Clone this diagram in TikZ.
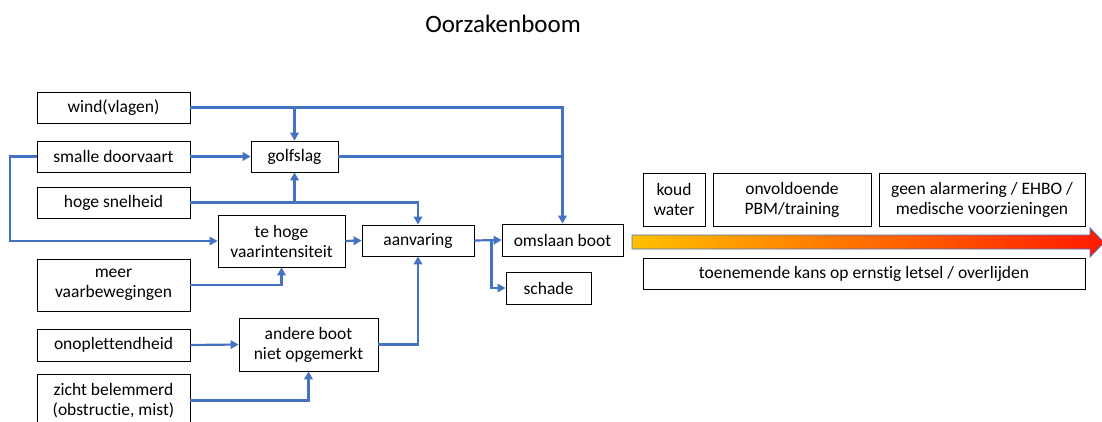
\documentclass[tikz,border=0pt]{standalone}
\usepackage{fontspec}
\setmainfont[Ligatures=NoCommon]{Carlito}
\usetikzlibrary{arrows.meta}
\definecolor{linkblue}{HTML}{4472C4}
\definecolor{riskyellow}{HTML}{FFC000}
\definecolor{riskred}{HTML}{FF1A00}
\begin{document}
\begin{tikzpicture}[x=1pt, y=-1pt,
    box/.style={draw, line width=0.8pt, align=center, inner sep=0pt,
        font=\fontsize{17.5}{20}\selectfont},
    conn/.style={draw=linkblue, line width=2.2pt},
    arr/.style={conn, -{Triangle[length=8pt,width=8.5pt]}}]
        \clip (0,0) rectangle (1102,421);

        % Add title
        \node[font=\fontsize{25}{30}\selectfont, anchor=base] (title) at (503,32) {Oorzakenboom};

        % Draw causes on the left
        \node[box, minimum width=153, minimum height=31] (wind) at (113.5,107.5) {wind(vlagen)};
        \node[box, minimum width=153, minimum height=31] (doorvaart) at (113.5,156.5) {smalle doorvaart};
        \node[box, minimum width=153, minimum height=31] (snelheid) at (113.5,202.5) {hoge snelheid};
        \node[box, minimum width=153, minimum height=52] (meer) at (113.5,285) {meer\\vaarbewegingen};
        \node[box, minimum width=153, minimum height=32] (onoplet) at (113.5,345) {onoplettendheid};
        \node[box, minimum width=153, minimum height=53] (zicht) at (113.5,400.5) {zicht belemmerd\\(obstructie, mist)};

        % Draw intermediate causes
        \node[box, minimum width=87, minimum height=31] (golfslag) at (294.5,156.5) {golfslag};
        \node[box, minimum width=127, minimum height=52] (intensiteit) at (281.5,241) {te hoge\\vaarintensiteit};
        \node[box, minimum width=139, minimum height=53] (andere) at (308.5,344.5) {andere boot\\niet opgemerkt};
        \node[box, minimum width=112, minimum height=31] (aanvaring) at (418,240.5) {aanvaring};

        % Draw effects
        \node[box, minimum width=121, minimum height=32] (omslaan) at (562.5,240) {omslaan boot};
        \node[box, minimum width=85, minimum height=32] (schade) at (548.5,288) {schade};

        % Draw risk arrow
        \shade[left color=riskyellow, right color=riskred, draw=linkblue, line width=0.8pt]
            (632,235) -- (1090,235) -- (1090,228) -- (1104,242.5) -- (1090,257)
            -- (1090,249) -- (632,249) -- cycle;

        % Add risk factors
        \node[box, minimum width=62, minimum height=53] (koud) at (674,199.5) {koud\\water};
        \node[box, minimum width=158, minimum height=53] (pbm) at (792,199.5) {onvoldoende\\PBM/training};
        \node[box, minimum width=206, minimum height=53] (ehbo) at (982,199.5) {geen alarmering / EHBO /\\medische voorzieningen};
        \node[box, minimum width=442, minimum height=31] (letsel) at (864,273.5) {toenemende kans op ernstig letsel / overlijden};

        % Draw connectors
        \draw[arr] (wind.east) -| (omslaan.north);
        \draw[arr] (wind.east -| golfslag.north) -- (golfslag.north);
        \draw[arr] (doorvaart.east) -- (golfslag.west);
        \draw[conn] (golfslag.east) -- (golfslag.east -| omslaan.north);
        \draw[arr] (snelheid.east) -| (aanvaring.north);
        \draw[arr] (snelheid.east -| golfslag.south) -- (golfslag.south);
        \draw[arr] (doorvaart.west) -- ++(-27,0) |- (intensiteit.west);
        \draw[arr] (meer.east) -| (intensiteit.south);
        \draw[arr] (intensiteit.east) -- (aanvaring.west);
        \draw[arr] (onoplet.east) -- (andere.west);
        \draw[arr] (zicht.east) -| (andere.south);
        \draw[arr] (andere.east) -| (aanvaring.south);
        \draw[arr] (aanvaring.east) -- (omslaan.west);
        \draw[arr] ([xshift=17pt]aanvaring.east) |- (schade.west);
\end{tikzpicture}
\end{document}
